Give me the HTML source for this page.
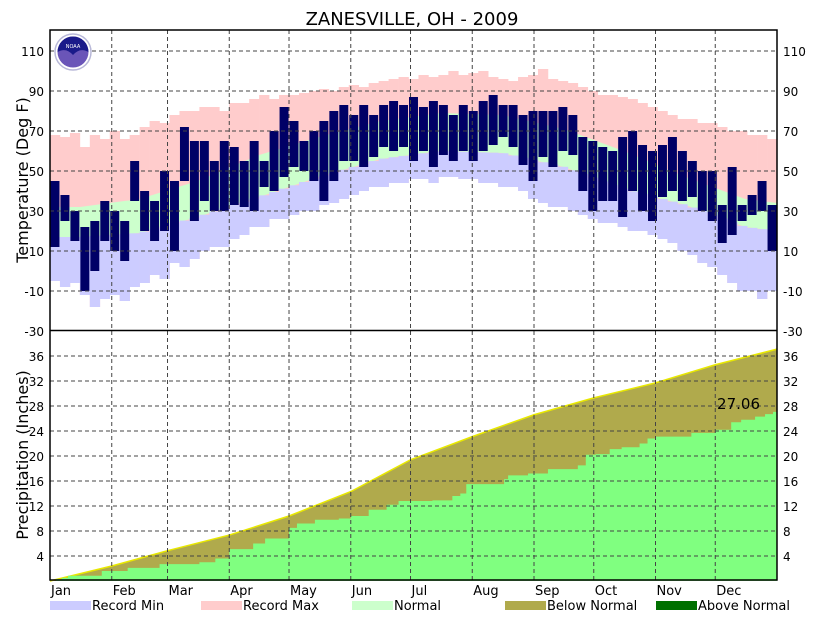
<!DOCTYPE html>
<html><head><meta charset="utf-8"><style>
body{margin:0;background:#fff}
svg text{font-family:"DejaVu Sans","Liberation Sans",sans-serif}
</style></head><body>
<svg id="c" width="827" height="620" viewBox="0 0 827 620" xmlns="http://www.w3.org/2000/svg">
<rect x="0" y="0" width="827" height="620" fill="#fff"/>
<text x="412" y="25" font-size="18" text-anchor="middle">ZANESVILLE, OH - 2009</text>
<g id="tp"></g>
<g id="pp"></g>
<g id="gr"></g>
<g id="ax"></g>
<g>
<circle cx="73" cy="52" r="18" fill="#fff" stroke="#b8b8d8" stroke-width="1.5"/>
<circle cx="73" cy="52" r="15.5" fill="#6a55b8"/>
<path d="M57.5,52 A15.5,15.5 0 0 1 88.5,52 Q80,47 73,55 Q66,47 57.5,52 Z" fill="#1a1a8a"/>
<text x="73" y="48" font-size="5" fill="#fff" text-anchor="middle">NOAA</text>
</g>
<text transform="translate(28,180) rotate(-90)" font-size="16" text-anchor="middle"><tspan x="0" y="0">Temperature (Deg F)</tspan></text>
<text transform="translate(28,455) rotate(-90)" font-size="16" text-anchor="middle"><tspan x="0" y="0">Precipitation (Inches)</tspan></text>
<text x="760" y="409" font-size="15" text-anchor="end">27.06</text>
<g id="lg"></g>
</svg>
<script>
const recHi=[68,67,69,62,68,66,70,66,68,72,75,74,78,80,80,82,82,80,84,84,86,88,86,88,88,89,90,91,90,92,93,92,94,95,96,97,96,98,97,98,100,98,99,100,97,96,95,97,98,101,96,95,94,92,90,88,88,87,86,84,82,80,78,76,76,74,74,72,70,70,68,68,66];
const recLo=[-5,-8,-6,-12,-18,-14,-12,-15,-8,-6,-2,-4,4,2,6,10,12,12,16,18,22,22,26,26,28,30,30,33,34,36,38,40,42,42,44,44,46,46,44,47,47,46,46,44,44,42,42,40,36,34,32,32,30,28,26,24,24,22,20,20,18,16,14,10,8,4,2,-2,-6,-10,-10,-14,-10];
const actHi=[45,38,30,22,25,35,30,25,55,40,35,50,45,72,65,65,55,65,62,55,65,55,70,82,75,65,70,75,80,83,78,83,78,83,85,83,87,82,85,83,78,83,80,85,88,83,83,78,80,80,80,82,78,67,65,62,60,67,70,63,60,63,67,60,55,50,50,33,52,33,38,45,33];
const actLo=[12,25,15,-10,0,15,10,5,35,20,15,20,10,45,25,35,30,30,33,32,30,42,40,47,52,50,45,35,45,55,55,52,57,62,60,62,55,60,52,58,55,60,55,60,63,67,62,53,45,57,52,60,58,40,30,35,35,27,40,30,25,37,40,35,37,30,25,14,18,25,28,30,10];
const normDays=[0,15,45,74,105,135,166,196,227,258,288,319,349,365];
const normHi=[32,32,36,45,58,67,75,79,78,71,60,47,36,34];
const normLo=[17,17,19,27,37,47,56,60,59,52,41,33,22,20];
const monthDays=[0,31,59,90,120,151,181,212,243,273,304,334,365];
const normPrecip=[0,2.4,4.85,7.35,10.4,14.3,19.4,23.1,26.6,29.3,31.7,34.6,37.1];
const obsDays=[0,3,6,9,26,39,55,75,83,90,102,108,120,124,133,145,151,160,169,175,192,202,206,209,228,230,240,250,265,269,274,281,287,296,300,304,322,334,342,347,354,359,363,365];
const obsPrecip=[0,0.3,0.5,0.85,1.6,2.1,2.7,3.0,3.6,5.1,6.0,6.8,8.5,9.2,9.8,10.0,10.4,11.4,12.2,12.8,12.9,13.6,14.0,15.5,16.3,16.9,17.2,17.9,18.5,20.2,20.3,21.1,21.4,22.0,22.8,23.1,23.7,24.2,25.4,25.8,26.3,26.7,27.06,27.06];
const months=["Jan","Feb","Mar","Apr","May","Jun","Jul","Aug","Sep","Oct","Nov","Dec"];
const tTicks=[110,90,70,50,30,10,-10,-30];
const pTicks=[36,32,28,24,20,16,12,8,4];

const NS="http://www.w3.org/2000/svg";
const X0=50,X1=777;
const xd=d=>X0+d*(X1-X0)/365;
const yT=t=>51+(110-t)*2;
const yP=v=>581-v*6.25;
const interp=(xs,ys,x)=>{for(let i=1;i<xs.length;i++){if(x<=xs[i]){const f=(x-xs[i-1])/(xs[i]-xs[i-1]);return ys[i-1]+f*(ys[i]-ys[i-1]);}}return ys[ys.length-1];};
function mk(p,tag,a){const e=document.createElementNS(NS,tag);for(const k in a)e.setAttribute(k,a[k]);p.appendChild(e);return e;}
const tp=document.getElementById('tp'),pp=document.getElementById('pp'),gr=document.getElementById('gr'),ax=document.getElementById('ax'),lg=document.getElementById('lg');
const clampT=y=>Math.max(31,Math.min(330,y));
const nb=recHi.length,bd=365/nb;
for(let i=0;i<nb;i++){
  const x=xd(i*bd),w=xd((i+1)*bd)-x+0.3;
  const r=mk(tp,'rect',{x:x,y:clampT(yT(recHi[i])),width:w,height:clampT(yT(recLo[i]))-clampT(yT(recHi[i])),fill:'#ffcccc'});
  
  
}
let pts=[];
for(let i=0;i<normDays.length;i++)pts.push(xd(normDays[i])+','+yT(normHi[i]));
for(let i=normDays.length-1;i>=0;i--)pts.push(xd(normDays[i])+','+yT(normLo[i]));
const nrm=mk(tp,'polygon',{points:pts.join(' '),fill:'#ccffcc'});


for(let i=0;i<nb;i++){
  const x=xd(i*bd),w=xd((i+1)*bd)-x+0.3;
  const nl=interp(normDays,normLo,(i+0.5)*bd);
  const top=clampT(yT(nl)),bot=clampT(yT(recLo[i]));
  const r=mk(tp,'rect',{x:x,y:top,width:w,height:Math.max(0,bot-top),fill:'#ccccff'});
  
  
}
for(let i=0;i<actHi.length;i++){
  const x=xd(i*bd),w=xd((i+1)*bd)-x;
  const r=mk(tp,'rect',{x:x+0.5,y:yT(actHi[i]),width:w-1,height:yT(actLo[i])-yT(actHi[i]),fill:'#000066'});
  
  
}
pts=[xd(0)+','+yP(0)];
for(let i=0;i<monthDays.length;i++)pts.push(xd(monthDays[i])+','+yP(normPrecip[i]));
pts.push(xd(365)+','+yP(0));
const np=mk(pp,'polygon',{points:pts.join(' '),fill:'#b0aa4c'});


const nl=mk(pp,'polyline',{points:pts.slice(1,-1).join(' '),fill:'none',stroke:'#e8e800','stroke-width':1.5});


pts=[xd(0)+','+yP(0)];
for(let i=0;i<obsDays.length;i++){pts.push(xd(obsDays[i])+','+yP(i>0?obsPrecip[i-1]:0));pts.push(xd(obsDays[i])+','+yP(obsPrecip[i]));}
pts.push(xd(365)+','+yP(0));
const op=mk(pp,'polygon',{points:pts.join(' '),fill:'#80ff80'});


const gs={stroke:'#444','stroke-width':1,'stroke-dasharray':'4,3'};
for(let m=1;m<12;m++){const l=mk(gr,'line',Object.assign({x1:xd(monthDays[m]),x2:xd(monthDays[m]),y1:30,y2:580},gs));}
tTicks.forEach(t=>{const y=yT(t);
  if(t>-30){const l=mk(gr,'line',Object.assign({x1:X0,x2:X1,y1:y,y2:y},gs));}
  const a=mk(ax,'text',{x:44,y:y+5,'font-size':12,'text-anchor':'end'});a.textContent=t;
  const b=mk(ax,'text',{x:783,y:y+5,'font-size':12});b.textContent=t;
});
pTicks.forEach(v=>{const y=yP(v);
  const l=mk(gr,'line',Object.assign({x1:X0,x2:X1,y1:y,y2:y},gs));
  const a=mk(ax,'text',{x:44,y:y+5,'font-size':12,'text-anchor':'end'});a.textContent=v;
  const b=mk(ax,'text',{x:783,y:y+5,'font-size':12});b.textContent=v;
});
const fr=mk(ax,'rect',{x:X0,y:30,width:X1-X0,height:550,fill:'none',stroke:'#000','stroke-width':1.5});

const dv=mk(ax,'line',{x1:X0,x2:X1,y1:330.5,y2:330.5,stroke:'#000','stroke-width':1.5});

months.forEach((m,i)=>{const t=mk(ax,'text',{x:xd(monthDays[i])+1,y:595,'font-size':13,'font-family':'Liberation Sans, sans-serif'});t.textContent=m;});
const legNames=["Record Min","Record Max","Normal","Below Normal","Above Normal"];
const legColors=["#ccccff","#ffcccc","#ccffcc","#b0aa4c","#007000"];
const legX=[50,201,352,505,656];
legNames.forEach((n,i)=>{
  const g=mk(lg,'g',{});
  mk(g,'rect',{x:legX[i],y:601,width:41,height:9,fill:legColors[i]});
  const t=mk(g,'text',{x:legX[i]+42,y:610,'font-size':13,'font-family':'Liberation Sans, sans-serif'});t.textContent=n;
});
</script>
</body></html>
